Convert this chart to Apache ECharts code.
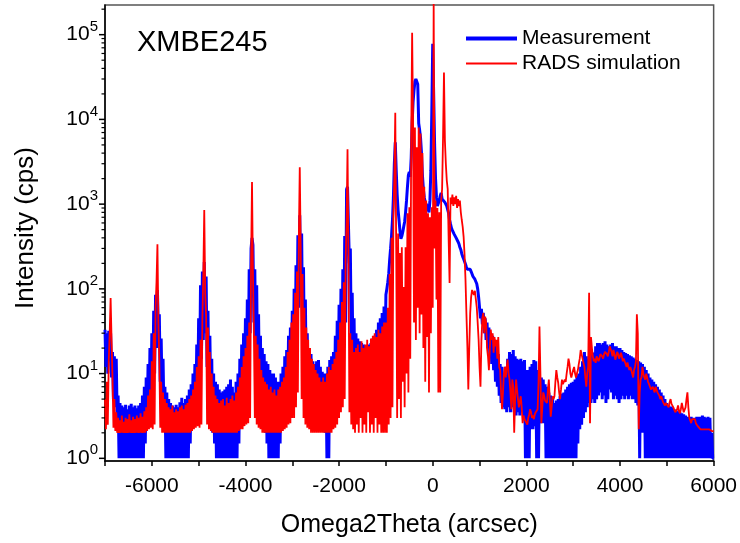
<!DOCTYPE html>
<html><head><meta charset="utf-8">
<script src="https://cdn.jsdelivr.net/npm/echarts@6/dist/echarts.min.js"></script>
<style>html,body{margin:0;padding:0;background:#fff}#c{width:740px;height:543px}</style>
</head><body><div id="c"></div>
<script>
// Omega2Theta sampling positions (arcsec)
const angles = [
-7000,-6980,-6960,-6940,-6920,-6900,-6880,-6860,-6840,-6820,-6800,-6780,-6760,-6740,-6720,-6700,-6680,-6660,-6640,-6620,-6600,-6580,-6560,-6540,-6520,-6500,-6480,-6460,-6440,-6420,-6400,-6380,-6360,-6340,-6320,-6300,-6280,-6260,-6240,-6220,-6200,-6180,-6160,-6140,-6120,-6100,-6080,-6060,-6040,-6020,
-6000,-5980,-5960,-5940,-5920,-5900,-5880,-5860,-5840,-5820,-5800,-5780,-5760,-5740,-5720,-5700,-5680,-5660,-5640,-5620,-5600,-5580,-5560,-5540,-5520,-5500,-5480,-5460,-5440,-5420,-5400,-5380,-5360,-5340,-5320,-5300,-5280,-5260,-5240,-5220,-5200,-5180,-5160,-5140,-5120,-5100,-5080,-5060,-5040,-5020,
-5000,-4980,-4960,-4940,-4920,-4900,-4880,-4860,-4840,-4820,-4800,-4780,-4760,-4740,-4720,-4700,-4680,-4660,-4640,-4620,-4600,-4580,-4560,-4540,-4520,-4500,-4480,-4460,-4440,-4420,-4400,-4380,-4360,-4340,-4320,-4300,-4280,-4260,-4240,-4220,-4200,-4180,-4160,-4140,-4120,-4100,-4080,-4060,-4040,-4020,
-4000,-3980,-3960,-3940,-3920,-3900,-3880,-3860,-3840,-3820,-3800,-3780,-3760,-3740,-3720,-3700,-3680,-3660,-3640,-3620,-3600,-3580,-3560,-3540,-3520,-3500,-3480,-3460,-3440,-3420,-3400,-3380,-3360,-3340,-3320,-3300,-3280,-3260,-3240,-3220,-3200,-3180,-3160,-3140,-3120,-3100,-3080,-3060,-3040,-3020,
-3000,-2980,-2960,-2940,-2920,-2900,-2880,-2860,-2840,-2820,-2800,-2780,-2760,-2740,-2720,-2700,-2680,-2660,-2640,-2620,-2600,-2580,-2560,-2540,-2520,-2500,-2480,-2460,-2440,-2420,-2400,-2380,-2360,-2340,-2320,-2300,-2280,-2260,-2240,-2220,-2200,-2180,-2160,-2140,-2120,-2100,-2080,-2060,-2040,-2020,
-2000,-1980,-1960,-1940,-1920,-1900,-1880,-1860,-1840,-1820,-1800,-1780,-1760,-1740,-1720,-1700,-1680,-1660,-1640,-1620,-1600,-1580,-1560,-1540,-1520,-1500,-1480,-1460,-1440,-1420,-1400,-1380,-1360,-1340,-1320,-1300,-1280,-1260,-1240,-1220,-1200,-1180,-1160,-1140,-1120,-1100,-1080,-1060,-1040,-1020,
-1000,-980,-960,-940,-920,-900,-880,-860,-840,-820,-800,-780,-760,-740,-720,-700,-680,-660,-640,-620,-600,-580,-560,-540,-520,-500,-480,-460,-440,-420,-400,-380,-360,-340,-320,-300,-280,-260,-240,-220,-200,-180,-160,-140,-120,-100,-80,-60,-40,-20,
0,20,40,60,80,100,120,140,160,180,200,220,240,260,280,300,320,340,360,380,400,420,440,460,480,500,520,540,560,580,600,620,640,660,680,700,720,740,760,780,800,820,840,860,880,900,920,940,960,980,
1000,1020,1040,1060,1080,1100,1120,1140,1160,1180,1200,1220,1240,1260,1280,1300,1320,1340,1360,1380,1400,1420,1440,1460,1480,1500,1520,1540,1560,1580,1600,1620,1640,1660,1680,1700,1720,1740,1760,1780,1800,1820,1840,1860,1880,1900,1920,1940,1960,1980,
2000,2020,2040,2060,2080,2100,2120,2140,2160,2180,2200,2220,2240,2260,2280,2300,2320,2340,2360,2380,2400,2420,2440,2460,2480,2500,2520,2540,2560,2580,2600,2620,2640,2660,2680,2700,2720,2740,2760,2780,2800,2820,2840,2860,2880,2900,2920,2940,2960,2980,
3000,3020,3040,3060,3080,3100,3120,3140,3160,3180,3200,3220,3240,3260,3280,3300,3320,3340,3360,3380,3400,3420,3440,3460,3480,3500,3520,3540,3560,3580,3600,3620,3640,3660,3680,3700,3720,3740,3760,3780,3800,3820,3840,3860,3880,3900,3920,3940,3960,3980,
4000,4020,4040,4060,4080,4100,4120,4140,4160,4180,4200,4220,4240,4260,4280,4300,4320,4340,4360,4380,4400,4420,4440,4460,4480,4500,4520,4540,4560,4580,4600,4620,4640,4660,4680,4700,4720,4740,4760,4780,4800,4820,4840,4860,4880,4900,4920,4940,4960,4980,
5000,5020,5040,5060,5080,5100,5120,5140,5160,5180,5200,5220,5240,5260,5280,5300,5320,5340,5360,5380,5400,5420,5440,5460,5480,5500,5520,5540,5560,5580,5600,5620,5640,5660,5680,5700,5720,5740,5760,5780,5800,5820,5840,5860,5880,5900,5920,5940,5960,5980,
6000
];
// Measurement intensity (cps)
const measurement = [
33,12,30,10,32,14,30,9,18,5,16,4,15,3,5.5,1,4.5,1,4.2,1,4,1,4.3,1,3.8,1,4.2,1,4.4,1,4,1,4.2,1,3.9,1,4.2,1,4.5,1,5.5,1,7,1.5,9,2.5,13,3,20,4,
30,6,55,10,85,20,97,30,50,8,26,5,15,3,7,1,6,1,5,1,4.5,1,4.2,1,4,1,4.3,1,4,1,4.6,1,5.2,1,4.5,1,5,1,5.5,1,6.5,1.5,7.5,2.5,10,3,13,3.5,22,5,
45,8,110,15,160,25,208,30,140,12,55,6,28,4,15,2,10,1.5,8,1,7.5,1,6.5,1,6,1,6.2,1,6.5,1,7,1,7.5,1,8.5,1,7,1,6,1,8,1,10,1.5,15,3,22,4,30,6,
45,8,75,12,170,30,300,400,330,40,170,15,110,8,50,5,28,3,20,2.5,17,2,14,1.5,13,1,11,1,10,1,10,1,9,1,8,1,8,1.5,10,2.2,12,2.5,16,3,19,3.5,28,4,35,6,
55,8,100,12,190,25,430,60,740,80,450,30,180,12,75,6,30,4,20,3,17,3,14,2.5,13,2.5,14,3,14.5,2.5,12,2.5,10.5,2.5,10,2,10,1,12,1,14.5,3,16,3,18,4,28,5,42,8,
65,8,100,12,170,20,420,40,1500,1600,1670,200,300,25,90,10,45,6,30,5,26,5,24,5,23,5,22,5,21,5,21,5,22,5,23,6,26,6,28,7,33,7,40,8,45,9,52,10,62,14,
85,100,120,150,220,300,420,650,1200,3000,5350,2500,1300,850,650,480,390,420,470,540,620,800,1100,1600,2200,2400,2100,3500,9000,16000,22000,28000,30000,30000,26000,9000,7500,6000,4000,2200,1500,1200,1050,1000,950,880,800,1100,2500,12000,
78000,20000,5000,2000,1200,950,950,1100,1250,1350,1150,1100,1100,1050,1000,950,900,780,650,580,520,490,470,440,420,400,390,360,340,310,290,260,240,225,210,195,180,170,165,168,170,160,150,140,135,130,125,115,100,80,
60,45,58,38,52,30,45,25,40,20,35,16,30,13,28,11,25,8,21,7,17,5.5,13,4.5,12,4,10,3.8,12,3.5,15,4,18,3.5,17,4,19,3.5,16,3.2,15,3.5,14.5,3.2,15,3.5,14,3.1,14.5,1,
11,1,11,1,12,2.2,13,2.2,14.5,2.4,14,1,11,1,10,2.6,9,2.6,8.5,2.6,7.5,1,7,1,6,1,5.5,1,5,1,4.5,1,4.8,1,5,1,5.4,1,5.8,1,6,1,6.5,1,7,1,7.5,1,7.8,1,
8,1,8.5,1,9.5,1.5,10,2.2,12,2.5,14,3,18,3.5,16,4,15,4.5,19,4.5,18,5,17.6,4.5,21,5,23,5.5,23,6,22,5,23,5.5,24,4.5,22,5,21,6.5,22,6,23,5,21,5.5,21,5,20,4.5,
20,5,19,5.5,18,5,17.5,5.5,17,5,16.5,5.5,16,5,15.5,5,15,4.5,14.5,4.2,14,1,13.5,2,13,2,12,1,11,1,10,1,9,1,8.5,1,8,1,7.5,1,7,1,6.5,1,6,1,5.5,1,5,1,
4.5,1,4.3,1,4.1,1,4,1,3.8,1,3.7,1,3.6,1,3.5,1,3.4,1,3.3,1,3.2,1,3.1,1,3.1,1,3.1,1,3,1,3,1,3.1,1,3.1,1,3.1,1,3.2,1,3.1,1,3,1,3.1,1,3,1,2,1,
1
];
// RADS simulation intensity (cps)
const simulation = [
5,2.2,8,2.5,14,30,78,25,9,2.3,5,2.1,3.5,2,3,2,2.8,2,3.2,2,2.7,2,3,2,2.9,2,3.3,2,2.8,2,3.1,2,2.9,2,3.2,2,3,2,3.4,2,3.1,2,3.6,2,4,2.1,5.5,2.2,6.5,2.3,
14,2.2,30,2.5,60,120,337,40,15,2.3,8,2,6,2,5,2,4.5,2,4,2,3.8,2,4.2,2,3.5,2,3.8,2,3.6,2,4,2,4.2,2,3.8,2,4.3,2,4.5,2,5,2,5.5,2.1,6.5,2.2,8,2.3,12,2.4,
16,2.3,25,2.5,45,150,850,90,47,2.5,35,2.2,18,2.1,10,2,7,2,5.5,2,5,2,4.5,2,4.8,2,5,2,4.2,2,5.2,2,4.5,2,5,2,5.5,2,4.8,2,6,2,7,2.1,9,2.2,12,2.2,16,2.4,
20,2.5,28,2.6,40,3,200,1820,150,30,3,28,2.5,22,2.3,15,2.2,11,2,9,2,8,2,7.5,2,6.5,2,7,2,6,2,6.5,2,5.5,2,6.5,2,7,2,8,2.1,9,2.2,12,2.3,18,2.5,25,2.6,40,
3,50,3,90,4,160,6,400,2720,300,5,150,3,60,2.5,35,2.3,25,2.2,20,2,15,2,13,2,11,2,10,2,9,2,8,2,9,2,8,2,10,2,12,2,11,2,13,2.2,15,2.3,18,2.5,25,
3,40,3.5,70,4,120,5,220,600,4450,250,3.5,30,2.5,25,2.2,18,2,20,2.5,22,2,18,3,24,2,20,2.5,22,2,25,3.5,21,2,26,2.5,28,2,30,3,27,2,33,2.5,30,2,36,2,40,2,
40,2,60,2.5,150,3,400,4,700,2000,12000,300,3,450,5,265,3,310,8,105,4,310,10,780,6,920,15,5600,105000,9000,40,8000,25,4700,60,8000,30,6800,50,4000,20,1600,8,1100,27,780,6,700,30,920,
60,240000,300,1100,75,900,6,800,6,1100,1500,6000,35700,5600,3000,1900,1500,380,117,1200,1000,1300,950,1200,1000,1250,900,1150,950,1100,800,650,540,410,250,127,50,21,6.5,20,52,80,97,90,85,95,97,61,40,25,
12,7,25,45,52,30,47,40,20,16,11,20,33,25,30,17.6,27,21,25,15,27,12,11,6,3.8,6,10,12,9,12,14.6,10,8.5,6,3.8,8.5,7,2,5,8.5,6.5,5,4,3.8,5.4,4,2.6,3.2,2.9,3,
2.9,2.5,3,3.3,3.8,3.5,3,3.2,2.9,3.3,3.5,3.4,3.8,8,36,10,2.6,4,6,5.5,4.8,5,4.5,6.5,8.5,5,3.1,4,5.4,5,5.4,8,11,9,7.8,6,5,6.5,8.5,7.5,8,8.5,8,10,12,15,13,10,9,10,
11,12,10,9,10,11,13,15,19,17,15,14.6,12,9,7,10,12,90,2.6,27,20,16,14,15,13.4,16,15,14,15,17,17.6,16,15,17,18,19,17,16,18,21,20,18,16,19,17,14.6,16,18,17,15,
16,17.6,16,14,15,14,13,12,13.5,12,11,12,11,10,9,11,12,14,50,30,2.2,6,8.5,9,12,10,9,8.5,10,9,8,7.5,7,6.5,6.5,7,6.8,6,7,6.5,6,5.8,5.5,5,5.4,5,4.6,4.5,4.2,4.5,
4.5,4.3,4,4.6,5,4.4,4.2,4,3.8,3.5,3.5,3.8,4.2,3.6,3.4,3.8,4.5,4,3.5,3.6,4,5,6,4,3,2.8,2.6,2.9,3,2.8,2.9,2.6,2.5,2.4,2.3,2.4,2.2,2.3,2.2,2.2,2.2,2.3,2.2,2.1,2.1,2.2,2.1,2.1,2.1,2.1,
2.1
];
const seriesNames = ['Measurement', 'RADS simulation'];
const chartTitle = 'XMBE245';
const xTickLabels = [-6000, -4000, -2000, 0, 2000, 4000, 6000];
const yMajorTicks = [1, 10, 100, 1000, 10000, 100000];
const yMinorTicks = [
2,3,4,5,6,7,8,9,
20,30,40,50,60,70,80,90,
200,300,400,500,600,700,800,900,
2000,3000,4000,5000,6000,7000,8000,9000,
20000,30000,40000,50000,60000,70000,80000,90000,
200000
];

const X_MIN = -7000, X_MAX = 6000, Y_MIN = 0.93, Y_MAX = 224000;
const FONT = '"Liberation Sans", Arial, Helvetica, sans-serif';

const chart = echarts.init(document.getElementById('c'), null, {renderer: 'canvas'});

function tickSeries(values, len, width) {
  return {
    type: 'custom',
    silent: true,
    z: 10,
    clip: false,
    data: values.map(v => [X_MIN, v]),
    renderItem: function (params, api) {
      const p = api.coord([api.value(0), api.value(1)]);
      return {
        type: 'line',
        shape: {x1: p[0] - len, y1: p[1], x2: p[0], y2: p[1]},
        style: {stroke: '#000', lineWidth: width}
      };
    }
  };
}

const option = {
  animation: false,
  backgroundColor: '#ffffff',
  textStyle: {fontFamily: FONT},
  title: {
    text: chartTitle, left: 137, top: 28, padding: 0,
    textStyle: {fontSize: 29, fontWeight: 'normal', color: '#000', fontFamily: FONT}
  },
  legend: {
    data: [
      {name: seriesNames[0], icon: 'path://M0,0L51,0L51,4L0,4Z'},
      {name: seriesNames[1], icon: 'path://M0,0L51,0L51,2L0,2Z'}
    ],
    orient: 'vertical', left: 466, top: 28, padding: 0,
    itemWidth: 51, itemHeight: 14, itemGap: 4,
    textStyle: {fontSize: 21, color: '#000', fontFamily: FONT}
  },
  grid: {left: 105, right: 26, top: 5, bottom: 82, show: true, borderColor: '#555', borderWidth: 1.5},
  xAxis: {
    type: 'value', min: X_MIN, max: X_MAX, interval: 1000,
    name: 'Omega2Theta (arcsec)', nameLocation: 'middle', nameGap: 52,
    nameTextStyle: {fontSize: 25, color: '#000', fontFamily: FONT},
    axisLine: {onZero: false, lineStyle: {color: '#000', width: 1.5}},
    axisTick: {length: 5, lineStyle: {color: '#000', width: 1.5}},
    axisLabel: {
      fontSize: 21, color: '#000', margin: 15, fontFamily: FONT,
      formatter: v => (xTickLabels.indexOf(v) >= 0 ? String(v) : '')
    },
    splitLine: {show: false}
  },
  yAxis: {
    type: 'log', logBase: 10, min: Y_MIN, max: Y_MAX,
    name: 'Intensity (cps)', nameLocation: 'middle', nameGap: 66,
    nameTextStyle: {fontSize: 26, color: '#000', fontFamily: FONT, padding: [0, 0, 0, 10]},
    axisLine: {show: true, onZero: false, lineStyle: {color: '#000', width: 1.5}},
    axisTick: {show: false},
    axisLabel: {
      margin: 7, color: '#000', fontFamily: FONT, padding: [0, 0, 5, 0],
      formatter: function (v) {
        const e = Math.log10(v);
        const r = Math.round(e);
        if (Math.abs(e - r) > 1e-6) return '';
        return '{b|10}{s|' + r + '}';
      },
      rich: {
        b: {fontSize: 21, lineHeight: 26, verticalAlign: 'bottom', color: '#000', fontFamily: FONT},
        s: {fontSize: 15, lineHeight: 12, verticalAlign: 'top', color: '#000', fontFamily: FONT}
      }
    },
    splitLine: {show: false}
  },
  series: [
    {
      name: seriesNames[0], type: 'line', showSymbol: false, symbol: 'none',
      data: angles.map((x, i) => [x, measurement[i]]),
      lineStyle: {color: '#0000ff', width: 3},
      itemStyle: {color: '#0000ff'},
      z: 2
    },
    {
      name: seriesNames[1], type: 'line', showSymbol: false, symbol: 'none',
      data: angles.map((x, i) => [x, simulation[i]]),
      lineStyle: {color: '#ff0000', width: 1.8},
      itemStyle: {color: '#ff0000'},
      z: 3
    },
    tickSeries(yMajorTicks, 6, 1.5),
    tickSeries(yMinorTicks, 3.5, 1.2)
  ]
};
chart.setOption(option);
</script>
</body></html>
